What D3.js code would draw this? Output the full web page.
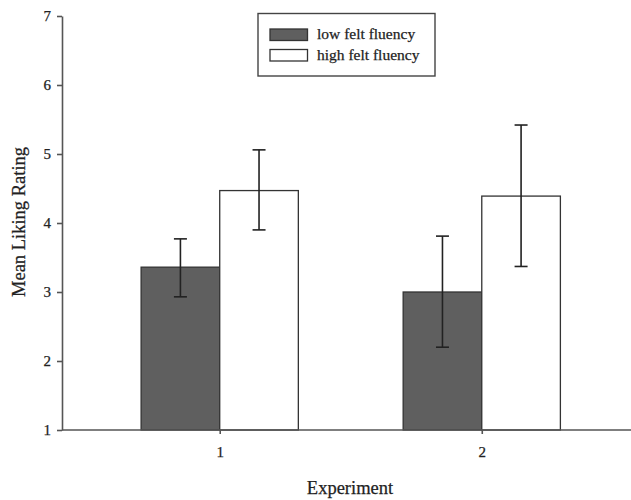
<!DOCTYPE html>
<html>
<head>
<meta charset="utf-8">
<script src="https://cdn.jsdelivr.net/npm/d3@7"></script>
<style>
  html, body { margin: 0; padding: 0; background: #fff; }
  svg { display: block; font-family: "Liberation Serif", "Times New Roman", serif; }
</style>
</head>
<body>
<div id="chart"></div>
<script>
const experiments = [1, 2];
const seriesNames = ['low felt fluency', 'high felt fluency'];
const seriesFill = ['#5f5f5f', '#ffffff'];

// means and error bar ends
const lowMean = [3.36, 3.00];
const lowUpper = [3.77, 3.81];
const lowLower = [2.93, 2.20];
const highMean = [4.47, 4.39];
const highUpper = [5.06, 5.42];
const highLower = [3.90, 3.37];

const yTicks = [1, 2, 3, 4, 5, 6, 7];

const width = 631, height = 500;
const ink = '#222';
const axisColor = '#555';

const svg = d3.select('#chart').append('svg')
    .attr('width', width)
    .attr('height', height);

const x = d3.scaleLinear().domain([0.4, 2.6]).range([62.5, 639]);
const y = d3.scaleLinear().domain([1, 7]).range([430, 16]);
const barW = 0.3; // in experiment units

const series = [
    { name: seriesNames[0], fill: seriesFill[0], offset: -barW, mean: lowMean, up: lowUpper, lo: lowLower },
    { name: seriesNames[1], fill: seriesFill[1], offset: 0, mean: highMean, up: highUpper, lo: highLower }
];

// bars
series.forEach(s => {
    svg.append('g').selectAll('rect')
        .data(experiments)
        .join('rect')
        .attr('x', d => x(d + s.offset))
        .attr('y', (d, i) => y(s.mean[i]))
        .attr('width', x(1 + barW) - x(1))
        .attr('height', (d, i) => y(1) - y(s.mean[i]))
        .attr('fill', s.fill)
        .attr('stroke', '#333')
        .attr('stroke-width', 1.3);
});

// error bars
const capHalf = 6.5;
series.forEach(s => {
    const g = svg.append('g').attr('stroke', ink).attr('stroke-width', 1.6);
    experiments.forEach((d, i) => {
        const cx = x(d + s.offset + barW / 2);
        g.append('line').attr('x1', cx).attr('x2', cx).attr('y1', y(s.up[i])).attr('y2', y(s.lo[i]));
        g.append('line').attr('x1', cx - capHalf).attr('x2', cx + capHalf).attr('y1', y(s.up[i])).attr('y2', y(s.up[i]));
        g.append('line').attr('x1', cx - capHalf).attr('x2', cx + capHalf).attr('y1', y(s.lo[i])).attr('y2', y(s.lo[i]));
    });
});

// axes
const yAxis = svg.append('g')
    .attr('transform', 'translate(62,0)')
    .call(d3.axisLeft(y).tickValues(yTicks).tickFormat(d3.format('d')).tickSize(5).tickSizeOuter(0).tickPadding(6));

const xAxis = svg.append('g')
    .attr('transform', `translate(0,${y(1)})`)
    .call(d3.axisBottom(x).tickValues(experiments).tickFormat(d3.format('d')).tickSize(4).tickSizeOuter(0).tickPadding(12));

[yAxis, xAxis].forEach(a => {
    a.selectAll('path, line').attr('stroke', axisColor).attr('stroke-width', 1.6);
    a.selectAll('text')
        .attr('fill', ink)
        .attr('stroke', ink)
        .attr('stroke-width', 0.25)
        .style('font-family', '"Liberation Serif", "Times New Roman", serif')
        .style('font-size', '15px');
});
xAxis.select('.domain').attr('d', `M62,0H${width}`);

// axis titles
svg.append('text')
    .attr('transform', 'translate(25,222) rotate(-90)')
    .attr('text-anchor', 'middle')
    .attr('fill', ink)
    .attr('stroke', ink)
    .attr('stroke-width', 0.25)
    .style('font-size', '18.5px')
    .text('Mean Liking Rating');

svg.append('text')
    .attr('x', 350)
    .attr('y', 494)
    .attr('text-anchor', 'middle')
    .attr('fill', ink)
    .attr('stroke', ink)
    .attr('stroke-width', 0.25)
    .style('font-size', '18.5px')
    .text('Experiment');

// legend
const legend = svg.append('g');
legend.append('rect')
    .attr('x', 258).attr('y', 13.5)
    .attr('width', 177).attr('height', 62.5)
    .attr('fill', '#fff')
    .attr('stroke', '#444')
    .attr('stroke-width', 1.4);

const item = legend.selectAll('g.item')
    .data(series)
    .join('g')
    .attr('class', 'item')
    .attr('transform', (d, i) => `translate(270,${29 + i * 20.5})`);

item.append('rect')
    .attr('width', 37.5).attr('height', 11.5)
    .attr('fill', d => d.fill)
    .attr('stroke', '#333')
    .attr('stroke-width', 1.3);

item.append('text')
    .attr('x', 47)
    .attr('y', 10)
    .attr('fill', ink)
    .attr('stroke', ink)
    .attr('stroke-width', 0.25)
    .style('font-size', '15.5px')
    .text(d => d.name);
</script>
</body>
</html>
